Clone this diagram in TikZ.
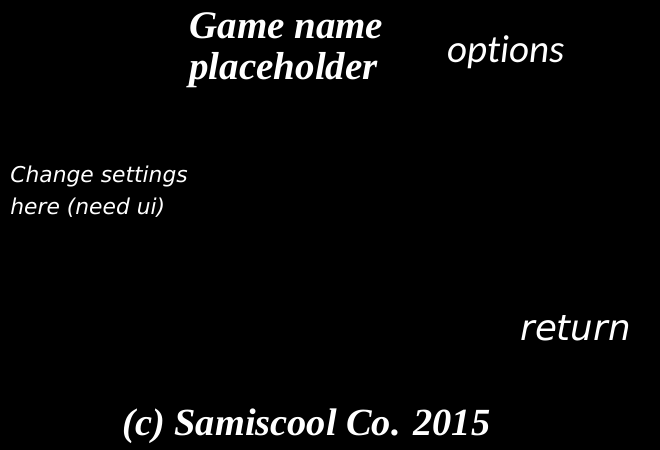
\documentclass[tikz,border=0pt]{standalone}
\usepackage{fontspec}
\newfontfamily\cambriafont{Liberation Serif}
\newfontfamily\calibrifont[Ligatures=NoCommon]{Carlito}
\newfontfamily\comicfont{DejaVu Sans}

\tikzset{
    screentext/.style={anchor=base west, inner sep=0pt, text=white, align=left},
    titlefont/.style={font=\fontsize{19.5}{20.5}\selectfont\cambriafont\bfseries\itshape},
    menufont/.style={font=\fontsize{19.5}{23}\selectfont\calibrifont\itshape},
    notefont/.style={font=\fontsize{10.9}{16}\selectfont\comicfont\itshape}
}

\begin{document}
\begin{tikzpicture}[x=0.5pt, y=-0.5pt]
    \pgfmathsetmacro{\screenwidth}{660}
    \pgfmathsetmacro{\screenheight}{450}

    \path [fill=black] (0, 0) rectangle (\screenwidth, \screenheight);
    \useasboundingbox (0, 0) rectangle (\screenwidth, \screenheight);

    \node [screentext, titlefont, anchor=north west] (title) at (189, 12) {Game name\\placeholder};
    \node [screentext, menufont] (options) at (447, 62) {options};

    \node [screentext, notefont, anchor=north west] (settings) at (10, 166) {Change settings\\here (need ui)};

    \node [screentext, font=\fontsize{17.8}{20}\selectfont\comicfont\itshape] (return) at (520, 340) {return};
    \node [screentext, font=\fontsize{19.2}{24}\selectfont\cambriafont\bfseries\itshape] (copyright) at (122, 435) {(c) Samiscool Co. 2015};
\end{tikzpicture}
\end{document}
